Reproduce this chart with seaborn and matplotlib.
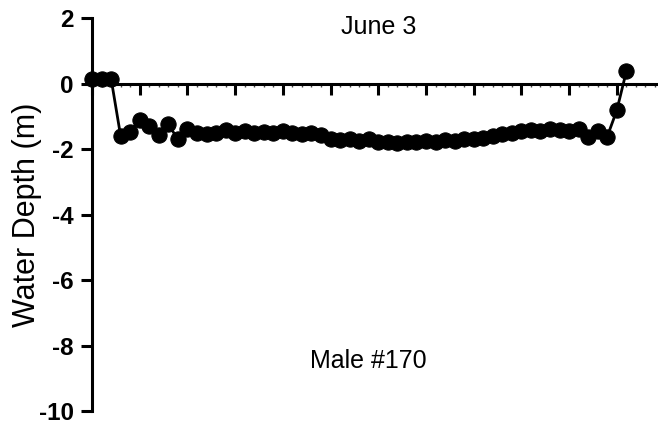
import matplotlib
matplotlib.use("Agg")
import matplotlib.pyplot as plt
import seaborn as sns
import numpy as np
import pandas as pd
from matplotlib.ticker import MultipleLocator

# ---- data ----
minutes = list(range(57))
depth = [0.15, 0.15, 0.15, -1.6, -1.48, -1.1, -1.3, -1.58, -1.25, -1.7,
         -1.4, -1.5, -1.55, -1.5, -1.42, -1.5, -1.45, -1.52, -1.48, -1.5,
         -1.45, -1.5, -1.55, -1.5, -1.58, -1.7, -1.72, -1.68, -1.75, -1.7,
         -1.78, -1.8, -1.82, -1.78, -1.8, -1.75, -1.78, -1.72, -1.75, -1.7,
         -1.68, -1.65, -1.6, -1.55, -1.5, -1.45, -1.42, -1.45, -1.4, -1.42,
         -1.45, -1.4, -1.62, -1.45, -1.62, -0.82, 0.37]
y_ticks = [2, 0, -2, -4, -6, -8, -10]
title_text = "June 3"
subject_text = "Male #170"
y_label = "Water Depth (m)"

df = pd.DataFrame({"minute": minutes, "depth": depth})

sns.set_theme(style="white")
plt.rcParams['font.family'] = ['Liberation Sans', 'DejaVu Sans']
plt.rcParams['text.color'] = 'black'
plt.rcParams['axes.labelcolor'] = 'black'
plt.rcParams['xtick.color'] = 'black'
plt.rcParams['ytick.color'] = 'black'

top_px, bot_px = 18.0, 411.0
fig = plt.figure(figsize=(6.58, 4.23), dpi=100)
ax = fig.add_axes([92/658, 1 - bot_px/423, 572.5/658, (bot_px - top_px)/423])

sns.lineplot(data=df, x="minute", y="depth", ax=ax, color="black",
             marker="o", markersize=11, markeredgecolor="black",
             linewidth=2, clip_on=False)

ax.set_xlim(0, 60)
ax.set_ylim(-10, 2)
ax.set_yticks(y_ticks)
ax.set_yticklabels([str(t) for t in y_ticks], fontsize=17.5, fontweight="bold",
                   color="black")

ax.xaxis.set_major_locator(MultipleLocator(5))
ax.xaxis.set_minor_locator(MultipleLocator(1))
ax.set_xticklabels([])
ax.tick_params(axis="x", which="major", direction="out", length=8, width=2.2,
               color="black", bottom=True)
ax.tick_params(axis="x", which="minor", direction="out", length=2.5, width=1,
               color="#444444", bottom=True)
ax.tick_params(axis="y", which="major", direction="out", length=8, width=2.2,
               color="black", left=True, pad=5)

for s in ["top", "right"]:
    ax.spines[s].set_visible(False)
ax.spines["bottom"].set_position(("data", 0))
for s in ["left", "bottom"]:
    ax.spines[s].set_color("black")
    ax.spines[s].set_linewidth(2.2)

ax.set_xlabel("")
ax.set_ylabel(y_label, fontsize=22, color="black")
ax.yaxis.set_label_coords(-0.088, 0.5)

ax.text(30, 1.74, title_text, ha="center", va="center", fontsize=18,
        color="black")
ax.text(29, -8.47, subject_text, ha="center", va="center", fontsize=18,
        color="black")

fig.savefig("out.png", dpi=100)
